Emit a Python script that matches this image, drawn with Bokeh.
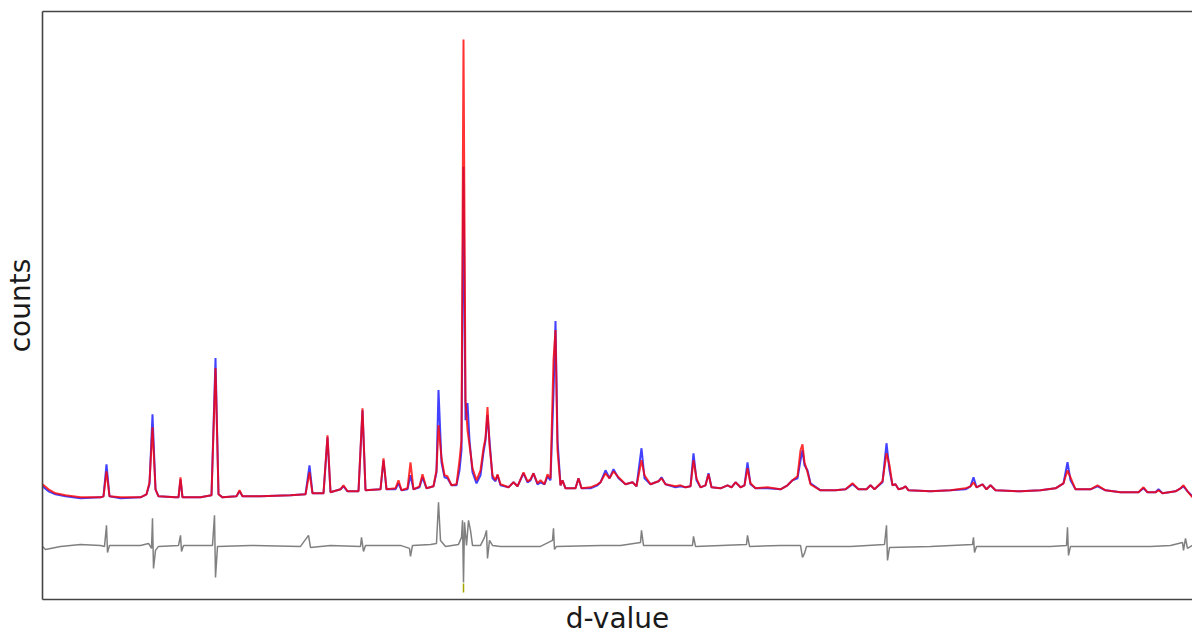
from bokeh.plotting import figure
from bokeh.models import Range1d, LinearAxis, FixedTicker
from bokeh.embed import file_html
from bokeh.resources import INLINE

# d-value positions (arbitrary units) of profile vertices
d_val = [0.0, 0.6, 1.3, 2.3, 3.8, 5.8, 6.1, 6.4, 6.7, 7.8, 9.8, 10.4, 10.7, 11.0, 11.3, 11.6,
         13.3, 13.6, 13.8, 14.0, 15.8, 16.9, 17.3, 17.6, 18.0, 19.4, 19.7, 20.0, 21.8, 24.8,
         26.3, 26.7, 27.0, 28.1, 28.5, 28.8, 29.8, 30.1, 30.5, 31.6, 32.0, 32.3, 33.8, 34.1,
         34.4, 35.3, 35.6, 35.9, 36.5, 36.8, 37.1, 37.7, 38.0, 38.4, 39.1, 39.4, 39.6, 39.9,
         40.2, 40.5, 40.9, 41.4, 41.7, 41.9, 42.1, 42.3, 42.5, 42.7, 43.0, 43.4, 43.8, 44.1,
         44.3, 44.5, 44.7, 45.0, 45.3, 45.5, 45.8, 46.6, 47.1, 47.5, 48.1, 48.5, 48.8, 49.1,
         49.5, 49.8, 50.2, 50.5, 50.8, 51.1, 51.3, 51.5, 51.8, 52.0, 52.3, 53.3, 53.6, 53.9,
         54.8, 55.5, 55.8, 56.3, 56.7, 57.1, 57.6, 58.3, 59.0, 59.4, 59.9, 60.2, 60.8, 61.6,
         61.9, 62.3, 63.3, 63.8, 64.3, 64.8, 65.1, 65.4, 65.8, 66.3, 66.6, 66.9, 67.8, 68.5,
         68.9, 69.3, 69.8, 70.2, 70.5, 70.8, 71.3, 72.5, 73.8, 74.5, 75.0, 75.5, 75.8, 76.0,
         76.2, 76.5, 76.8, 77.8, 79.3, 80.3, 81.0, 81.6, 82.4, 82.8, 83.2, 84.0, 84.4, 84.7,
         85.0, 85.3, 85.6, 86.0, 86.3, 86.6, 88.8, 90.8, 92.3, 92.8, 93.1, 93.4, 94.0, 94.4,
         94.8, 95.3, 97.8, 99.8, 101.3, 102.1, 102.5, 102.8, 103.3, 104.8, 105.5, 106.3,
         107.8, 109.6, 110.1, 110.5, 111.3, 111.6, 112.0, 113.3, 113.8, 114.1, 114.5, 115.0]

# observed counts
obs = [113, 108, 105, 103, 101, 102, 103, 135, 103, 101, 102, 105, 115, 185, 110, 103,
       102, 102, 120, 102, 102, 104, 241, 105, 102, 103, 108, 103, 103, 104,
       105, 134, 106, 106, 162, 107, 110, 113, 108, 108, 189, 109, 110, 139,
       110, 110, 116, 109, 110, 124, 110, 112, 122, 111, 113, 127, 209, 137,
       122, 121, 114, 114, 129, 149, 432, 179, 196, 159, 127, 116, 124, 147,
       159, 184, 159, 121, 118, 124, 114, 112, 117, 113, 126, 117, 119, 126,
       115, 117, 115, 123, 119, 206, 278, 159, 114, 119, 111, 111, 121, 111,
       111, 114, 117, 129, 121, 130, 121, 115, 117, 113, 151, 121, 115, 118,
       122, 115, 112, 113, 112, 113, 146, 119, 112, 114, 126, 112, 111, 114,
       112, 117, 112, 114, 137, 115, 111, 111, 110, 114, 119, 121, 139, 149,
       134, 129, 116, 109, 109, 110, 115, 110, 110, 114, 110, 117, 156, 129,
       114, 115, 110, 111, 113, 109, 108, 109, 110, 113, 122, 112, 115, 110,
       114, 109, 108, 109, 111, 116, 137, 119, 110, 110, 113, 109,
       107, 107, 111, 107, 107, 110, 106, 108, 111, 113, 108, 103]

# calculated counts
calc = [115, 110, 106, 104, 102, 102, 103, 128, 103, 102, 102, 105, 117, 172, 110, 103,
        102, 102, 122, 102, 102, 104, 231, 105, 102, 103, 109, 103, 103, 104,
        105, 127, 106, 106, 164, 107, 110, 114, 108, 108, 191, 109, 110, 141,
        110, 111, 119, 109, 111, 137, 110, 113, 125, 111, 113, 129, 174, 141,
        124, 123, 114, 115, 139, 159, 559, 199, 169, 154, 131, 119, 129, 151,
        161, 192, 154, 124, 119, 125, 115, 112, 117, 113, 127, 118, 120, 126,
        116, 119, 115, 125, 121, 239, 269, 149, 114, 119, 111, 111, 121, 111,
        112, 115, 117, 126, 121, 128, 122, 115, 117, 113, 139, 124, 115, 118,
        121, 115, 113, 114, 112, 113, 139, 121, 112, 114, 125, 112, 111, 114,
        112, 117, 112, 114, 131, 116, 111, 112, 110, 114, 119, 123, 149, 155,
        137, 127, 115, 109, 109, 110, 116, 110, 110, 114, 110, 118, 146, 134,
        114, 115, 110, 111, 113, 109, 108, 109, 111, 113, 117, 112, 115, 110,
        114, 109, 108, 109, 111, 116, 129, 122, 110, 110, 114, 109,
        107, 107, 112, 107, 107, 109, 106, 108, 111, 114, 108, 102]

# difference curve (offset below the profile)
diff_d = [0.0, 0.3, 0.8, 1.8, 3.8, 5.8, 6.2, 6.4, 6.5, 6.7, 9.8, 10.6, 10.9, 11.0, 11.1, 11.3,
          11.6, 13.6, 13.8, 13.9, 14.1, 17.0, 17.2, 17.3, 17.5, 20.8, 25.8, 26.6, 26.8, 28.8,
          31.8, 31.9, 32.1, 32.3, 35.8, 36.7, 36.8, 37.0, 38.8, 39.4, 39.6, 39.8, 40.3, 41.6,
          41.9, 42.0, 42.1, 42.2, 42.4, 42.6, 42.8, 43.0, 43.8, 44.2, 44.4, 44.5, 44.7, 45.0,
          45.8, 47.8, 49.8, 51.0, 51.1, 51.2, 51.4, 55.8, 57.8, 59.8, 59.9, 60.1, 63.8, 65.0,
          65.1, 65.3, 70.4, 70.5, 70.7, 73.8, 75.8, 76.0, 76.2, 76.4, 80.8, 84.2, 84.4, 84.5,
          84.7, 88.8, 93.0, 93.1, 93.2, 93.4, 100.8, 102.4, 102.5, 102.6, 102.8, 110.8, 112.8,
          114.0, 114.1, 114.3, 114.5, 115.0]
diff = [53, 50, 51, 53, 55, 54, 53, 74, 47, 54, 54, 56, 51, 81, 31, 49,
        53, 54, 64, 48, 54, 54, 84, 22, 53, 54, 53, 64, 52, 54,
        53, 62, 48, 54, 54, 51, 43, 54, 55, 56, 97, 59, 53, 55,
        62, 79, 17, 77, 54, 79, 69, 54, 54, 62, 69, 41, 59, 54,
        53, 53, 53, 59, 71, 50, 53, 54, 54, 57, 69, 54, 54, 54,
        63, 53, 55, 64, 53, 54, 54, 42, 46, 53, 53, 55, 74, 39,
        52, 53, 55, 62, 47, 53, 53, 54, 72, 44, 53, 53, 54,
        57, 49, 61, 51, 54]

# reflection marker
refl_d = [42.1]
refl_lo = [7]
refl_hi = [16]

p = figure(width=1192, height=637, x_range=Range1d(0, 115), y_range=Range1d(0, 587),
           output_backend="svg", toolbar_location=None,
           min_border_left=0, min_border_right=0, min_border_top=11, min_border_bottom=0)
p.outline_line_color = None
p.grid.visible = False

bottom = p.below[0]
left = p.left[0]
top = LinearAxis()
p.add_layout(top, "above")

for ax in [bottom, left, top]:
    ax.ticker = FixedTicker(ticks=[])
    ax.major_tick_line_color = None
    ax.minor_tick_line_color = None
    ax.major_tick_out = 0
    ax.major_tick_in = 0
    ax.minor_tick_out = 0
    ax.minor_tick_in = 0
    ax.major_label_standoff = 0
    ax.axis_line_color = "#444444"
    ax.axis_line_width = 1.6
    ax.axis_label_text_font = "DejaVu Sans"
    ax.axis_label_text_font_size = "28px"
    ax.axis_label_text_font_style = "normal"
    ax.axis_label_text_color = "#1a1a1a"

bottom.axis_label = "d-value"
bottom.axis_label_standoff = 2
left.axis_label = "counts"
left.axis_label_standoff = 6

p.line(diff_d, diff, line_color="#808080", line_width=1.5)
p.line(d_val, obs, line_color="#2020ff", line_width=2.0, line_alpha=0.85)
p.line(d_val, calc, line_color="#ff0000", line_width=2.0, line_alpha=0.8)
p.segment(x0=refl_d, y0=refl_lo, x1=refl_d, y1=refl_hi, line_color="#a6a600", line_width=1.5)

open("out.html", "w").write(file_html(p, INLINE))
